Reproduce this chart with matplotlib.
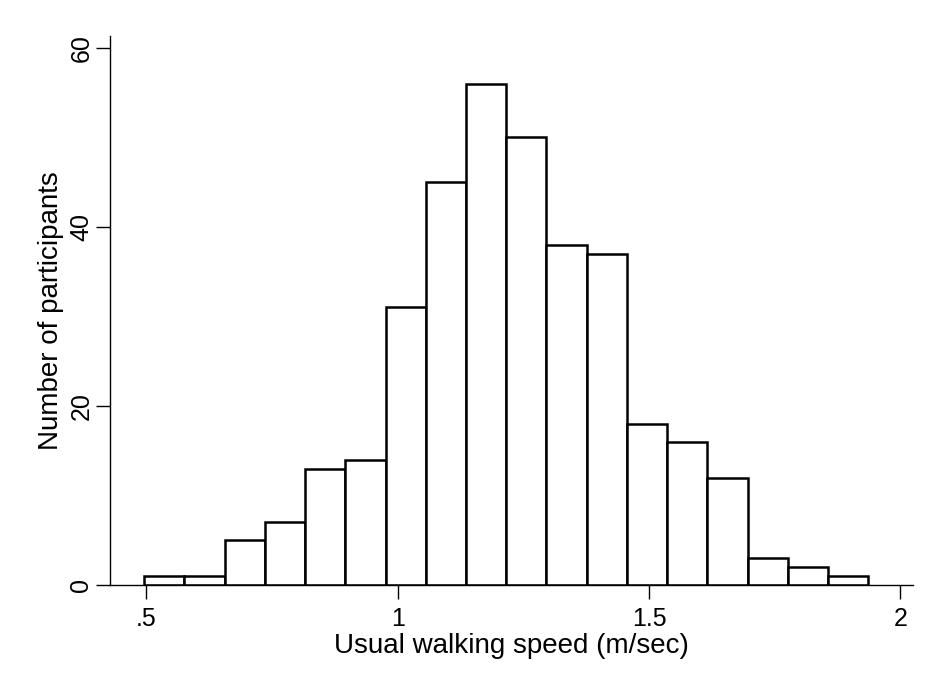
import numpy as np
import matplotlib
matplotlib.use('Agg')
import matplotlib.pyplot as plt

plt.rcParams['font.family'] = ['Liberation Sans', 'DejaVu Sans']

# histogram data
bin_start = 0.496
bin_width = 0.08
counts = [1, 1, 5, 7, 13, 14, 31, 45, 56, 50, 38, 37, 18, 16, 12, 3, 2, 1]
xticks = [0.5, 1, 1.5, 2]
xtick_labels = ['.5', '1', '1.5', '2']
yticks = [0, 20, 40, 60]

edges = bin_start + bin_width * np.arange(len(counts) + 1)

fig = plt.figure(figsize=(9.25, 6.81), dpi=100)
ax = fig.add_axes([0.119, 0.141, 0.868, 0.806])
ax.bar(edges[:-1], counts, width=bin_width, align='edge',
       facecolor='white', edgecolor='black', linewidth=1.8)

ax.set_xlim(0.428, 2.025)
ax.set_ylim(0, 61.3)
ax.set_xticks(xticks)
ax.set_xticklabels(xtick_labels)
ax.set_yticks(yticks)
for lab in ax.get_yticklabels():
    lab.set_rotation(90)
    lab.set_va('center')
ax.tick_params(labelsize=18, length=10, width=1, colors='black', pad=6)
ax.tick_params(axis='y', pad=2)
ax.spines['top'].set_visible(False)
ax.spines['right'].set_visible(False)
ax.spines['left'].set_linewidth(1)
ax.spines['bottom'].set_linewidth(1)
ax.set_xlabel('Usual walking speed (m/sec)', fontsize=20, labelpad=1)
ax.set_ylabel('Number of participants', fontsize=20, labelpad=4)

fig.savefig('out.png', dpi=100, facecolor='white')
